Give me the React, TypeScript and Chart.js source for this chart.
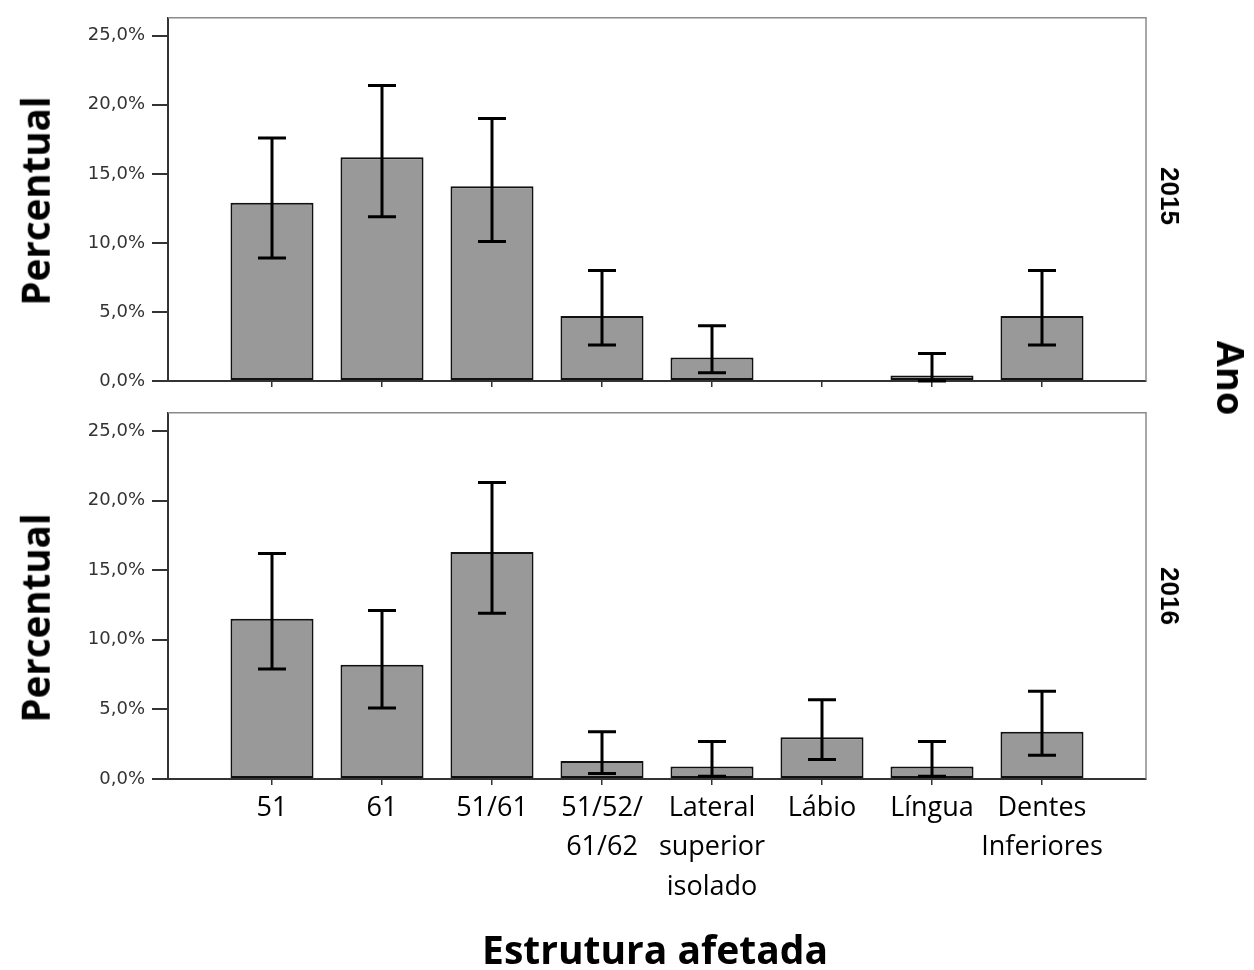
import React, { useEffect, useRef } from "react";
import { Chart, registerables } from "chart.js";
Chart.register(...registerables);

const categories: string[][] = [
  ["51"],
  ["61"],
  ["51/61"],
  ["51/52/", "61/62"],
  ["Lateral", "superior", "isolado"],
  ["Lábio"],
  ["Língua"],
  ["Dentes", "Inferiores"],
];
const values2015 = [12.9, 16.2, 14.1, 4.7, 1.7, null, 0.4, 4.7];
const low2015 = [8.9, 11.9, 10.1, 2.6, 0.6, null, 0.0, 2.6];
const high2015 = [17.6, 21.4, 19.0, 8.0, 4.0, null, 2.0, 8.0];
const values2016 = [11.5, 8.2, 16.3, 1.3, 0.9, 3.0, 0.9, 3.4];
const low2016 = [7.9, 5.1, 11.9, 0.4, 0.2, 1.4, 0.2, 1.7];
const high2016 = [16.2, 12.1, 21.3, 3.4, 2.7, 5.7, 2.7, 6.3];
const yTicks = [0, 5, 10, 15, 20, 25];

const errorBarPlugin = {
  id: "errorBars",
  afterDatasetsDraw(chart: any, _args: any, opts: any) {
    const { ctx } = chart;
    const xs = chart.scales.x;
    const ys = chart.scales.y;
    const low: (number | null)[] = opts.low || [];
    const high: (number | null)[] = opts.high || [];
    ctx.save();
    ctx.strokeStyle = "#000";
    ctx.lineWidth = 3;
    ctx.lineCap = "butt";
    for (let i = 0; i < low.length; i++) {
      const lo = low[i];
      const hi = high[i];
      if (lo == null || hi == null) continue;
      const x = xs.getPixelForValue(i);
      const yl = ys.getPixelForValue(lo);
      const yh = ys.getPixelForValue(hi);
      const cap = 14;
      ctx.beginPath();
      ctx.moveTo(x, yl);
      ctx.lineTo(x, yh);
      ctx.moveTo(x - cap, yh);
      ctx.lineTo(x + cap, yh);
      ctx.moveTo(x - cap, yl);
      ctx.lineTo(x + cap, yl);
      ctx.stroke();
    }
    ctx.restore();
  },
};

const framePlugin = {
  id: "frame",
  afterDraw(chart: any) {
    const { ctx, chartArea } = chart;
    ctx.save();
    ctx.strokeStyle = "#8a8a8a";
    ctx.lineWidth = 1.5;
    ctx.beginPath();
    ctx.moveTo(chartArea.left, chartArea.top);
    ctx.lineTo(chartArea.right, chartArea.top);
    ctx.lineTo(chartArea.right, chartArea.bottom);
    ctx.stroke();
    ctx.restore();
  },
};

function buildConfig(
  values: (number | null)[],
  low: (number | null)[],
  high: (number | null)[],
  showLabels: boolean,
  topPad: number,
  xHeight: number
): any {
  return {
    type: "bar",
    data: {
      datasets: [
        {
          data: values.map((v, i) => ({ x: i, y: v })),
          backgroundColor: "#999999",
          borderColor: "#111111",
          borderWidth: 2,
          borderSkipped: false,
          barPercentage: 0.755,
          categoryPercentage: 1,
        },
      ],
    },
    plugins: [errorBarPlugin, framePlugin],
    options: {
      responsive: false,
      animation: false,
      layout: { padding: { left: 0, right: 108, top: topPad, bottom: 0 } },
      plugins: {
        legend: { display: false },
        tooltip: { enabled: false },
        title: { display: false },
        errorBars: { low, high },
      },
      scales: {
        x: {
          type: "linear",
          offset: false,
          min: -0.9455,
          max: 7.9455,
          afterBuildTicks: (s: any) => {
            s.ticks = categories.map((_, i) => ({ value: i }));
          },
          afterFit: (s: any) => {
            s.height = xHeight;
          },
          grid: {
            offset: false,
            drawOnChartArea: false,
            drawTicks: true,
            tickLength: 6,
            color: "#333",
            lineWidth: 1.5,
          },
          border: { display: true, color: "#333", width: 2 },
          ticks: {
            display: showLabels,
            autoSkip: false,
            maxRotation: 0,
            minRotation: 0,
            padding: 4,
            color: "#000",
            font: { family: "'Open Sans'", size: 27, lineHeight: 1.45 },
            callback: (v: any) => categories[Math.round(v)] ?? "",
          },
        },
        y: {
          type: "linear",
          min: 0,
          max: 26.3,
          afterBuildTicks: (s: any) => {
            s.ticks = yTicks.map((v) => ({ value: v }));
          },
          afterFit: (s: any) => {
            s.width = 168;
          },
          grid: {
            drawOnChartArea: false,
            drawTicks: true,
            tickLength: 16,
            color: "#333",
            lineWidth: 2,
          },
          border: { display: true, color: "#333", width: 2 },
          ticks: {
            padding: 7,
            color: "#333",
            font: { family: "'DejaVu Sans'", size: 18 },
            callback: (v: any) => Number(v).toFixed(1).replace(".", ",") + "%",
          },
        },
      },
    },
  };
}

function Panel(props: {
  values: (number | null)[];
  low: (number | null)[];
  high: (number | null)[];
  showLabels: boolean;
  top: number;
  height: number;
  topPad: number;
  xHeight: number;
}) {
  const ref = useRef<HTMLCanvasElement>(null);
  useEffect(() => {
    if (!ref.current) return;
    const chart = new Chart(
      ref.current,
      buildConfig(props.values, props.low, props.high, props.showLabels, props.topPad, props.xHeight)
    );
    return () => chart.destroy();
  }, []);
  return (
    <canvas
      ref={ref}
      width={1254}
      height={props.height}
      style={{ position: "absolute", left: 0, top: props.top, width: 1254, height: props.height }}
    />
  );
}

const labelBase: React.CSSProperties = {
  position: "absolute",
  whiteSpace: "nowrap",
  fontWeight: 700,
  color: "#000",
  lineHeight: 1,
};

export default function App() {
  return (
    <div style={{ position: "absolute", left: 0, top: 0, width: 1254, height: 970, background: "#fff", overflow: "hidden" }}>
      <Panel values={values2015} low={low2015} high={high2015} showLabels={false} top={0} height={400} topPad={13} xHeight={19} />
      <Panel values={values2016} low={low2016} high={high2016} showLabels={true} top={395} height={575} topPad={16} xHeight={191} />
      <div style={{ ...labelBase, left: 35, top: 201, fontFamily: "'Open Sans'", fontSize: 38.5, transform: "translate(-50%,-50%) rotate(-90deg)" }}>Percentual</div>
      <div style={{ ...labelBase, left: 35, top: 618, fontFamily: "'Open Sans'", fontSize: 38.5, transform: "translate(-50%,-50%) rotate(-90deg)" }}>Percentual</div>
      <div style={{ ...labelBase, left: 1170, top: 196, fontFamily: "'Liberation Sans'", fontSize: 26, transform: "translate(-50%,-50%) rotate(90deg)" }}>2015</div>
      <div style={{ ...labelBase, left: 1170, top: 596, fontFamily: "'Liberation Sans'", fontSize: 26, transform: "translate(-50%,-50%) rotate(90deg)" }}>2016</div>
      <div style={{ ...labelBase, left: 1232, top: 378, fontFamily: "'Open Sans'", fontSize: 38, transform: "translate(-50%,-50%) rotate(90deg)" }}>Ano</div>
      <div style={{ ...labelBase, left: 655, top: 948, fontFamily: "'Open Sans'", fontSize: 39, transform: "translate(-50%,-50%)" }}>Estrutura afetada</div>
    </div>
  );
}
